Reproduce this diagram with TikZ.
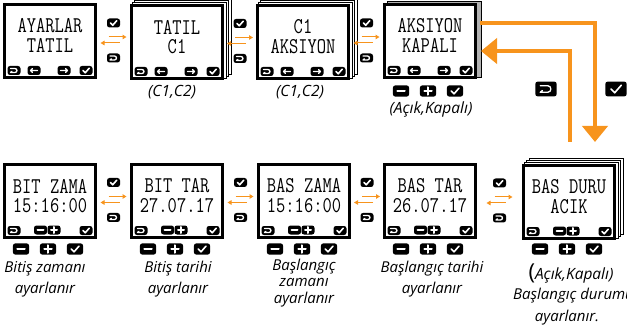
\documentclass[tikz,border=0pt]{standalone}
\usepackage{fontspec}
\newfontfamily\lblfont{Open Sans}
\usepackage{tikz}
\usetikzlibrary{positioning, calc, arrows.meta, backgrounds}
\definecolor{flow}{HTML}{F7941D}

\tikzset{
  lcd/.style={draw, line width=3pt, fill=white, minimum width=91pt, minimum height=73pt, inner sep=0pt},
  lcdtext/.style={font=\fontsize{18}{18}\selectfont\ttfamily, inner sep=0pt},
  sheet/.style={draw, line width=.8pt, fill=white},
  keycap/.style={fill=black, rounded corners=2.5pt},
  glyph/.style={draw=white, line width=1.3pt, line cap=round, line join=round},
  hop/.style={draw=flow, line width=1pt, -{Triangle[length=4pt,width=4.5pt]}},
  bighop/.style={draw=flow, line width=4.5pt, -{Triangle[length=16pt,width=25pt]}},
  lbl/.style={font=\lblfont\itshape\fontsize{15}{21}\selectfont, align=center, inner sep=0pt},
  ret/.pic={\fill[keycap] (-6.5,-4.5) rectangle (6.5,4.5);
    \draw[glyph] (-3.5,-2) -- (1,-2) .. controls (3.6,-2) and (3.6,2) .. (1,2) -- (-3.5,2) -- (-2.2,0.9);},
  larr/.pic={\fill[keycap] (-6.5,-4.5) rectangle (6.5,4.5);
    \draw[glyph] (3.5,0) -- (-3.5,0) (-1.6,-1.9) -- (-3.5,0) -- (-1.6,1.9);},
  rarr/.pic={\fill[keycap] (-6.5,-4.5) rectangle (6.5,4.5);
    \draw[glyph] (-3.5,0) -- (3.5,0) (1.6,-1.9) -- (3.5,0) -- (1.6,1.9);},
  chk/.pic={\fill[keycap] (-6.5,-4.5) rectangle (6.5,4.5);
    \draw[glyph, line width=1.6pt] (-3,0) -- (-0.8,2.3) -- (3.2,-2.3);},
  minus/.pic={\fill[keycap] (-6.5,-4.5) rectangle (6.5,4.5);
    \draw[glyph, line width=2pt] (-3,0) -- (3,0);},
  plus/.pic={\fill[keycap] (-6.5,-4.5) rectangle (6.5,4.5);
    \draw[glyph, line width=2pt] (-3,0) -- (3,0) (0,-3) -- (0,3);}
}

% screen with its two text lines and outer keys
\newcommand{\lcd}[4]{%
  \node[lcd] (#1) at (#2) {};
  \node[lcdtext] (#1-a) at ($(#1.center)+(0,-15)$) {\scalebox{1}[1.25]{#3}};
  \node[lcdtext] (#1-b) at ($(#1.center)+(0,4.5)$) {\scalebox{1}[1.25]{#4}};
  \pic at ($(#1.center)+(-36,29.5)$) {ret};
  \pic at ($(#1.center)+(36,29.5)$) {chk};}
\newcommand{\lcdnav}[1]{%
  \pic at ($(#1.center)+(-16,29.5)$) {larr};
  \pic at ($(#1.center)+(14,29.5)$) {rarr};}
\newcommand{\lcdset}[1]{%
  \pic at ($(#1.center)+(-9.5,29)$) {minus};
  \pic at ($(#1.center)+(4,29)$) {plus};}
\newcommand{\belowkeys}[2]{%
  \pic[scale=1.25] at ($(#1.center)+(-29,#2)$) {minus};
  \pic[scale=1.25] at ($(#1.center)+(-2,#2)$) {plus};
  \pic[scale=1.25] at ($(#1.center)+(25,#2)$) {chk};}
% keys and arrows between two screens
\newcommand{\hop}[2]{%
  \coordinate (#1#2) at ($(#1.east)!.5!(#2.west)$);
  \pic at ($(#1#2)+(0,-18.5)$) {chk};
  \pic at ($(#1#2)+(0,16.5)$) {ret};
  \draw[hop] ($(#1#2)+(-5,-4.5)$) -- ($(#1#2)+(13,-4.5)$);
  \draw[hop] ($(#1#2)+(6,1.5)$) -- ($(#1#2)+(-13,1.5)$);}
\newcommand{\sheets}[1]{%
  \foreach \off in {7,4.5,2}
    \draw[sheet] ($(#1.south west)+(\off,-0.75*\off)$) rectangle ($(#1.north east)+(\off,-0.75*\off)$);}

\begin{document}
\begin{tikzpicture}[x=1pt, y=-1pt]
\useasboundingbox (0,0) rectangle (627,334);

% top row
\lcd{s1}{50,41}{AYARLAR}{TATIL} \lcdnav{s1}
\lcd{s2}{177,42}{TATIL}{C1} \lcdnav{s2}
\lcd{s3}{303,42}{C1}{AKSIYON} \lcdnav{s3}
\lcd{s4}{430,41}{AKSIYON}{KAPALI} \lcdnav{s4}
\belowkeys{s4}{50}
\hop{s1}{s2} \hop{s2}{s3} \hop{s3}{s4}

% bottom row
\lcd{s5}{50,201}{BIT ZAMA}{15:16:00} \lcdset{s5}
\lcd{s6}{177,201}{BIT TAR}{27.07.17} \lcdset{s6}
\lcd{s7}{304,201}{BAS ZAMA}{15:16:00} \lcdset{s7}
\lcd{s8}{430,201}{BAS TAR}{26.07.17} \lcdset{s8}
\lcd{s9}{569,202}{BAS DURU}{ACIK} \lcdset{s9}
\foreach \s in {s5,s6,s7,s8} {\belowkeys{\s}{48}}
\belowkeys{s9}{47}
\hop{s5}{s6} \hop{s6}{s7} \hop{s7}{s8} \hop{s8}{s9}

\begin{scope}[on background layer]
\sheets{s2} \sheets{s3} \sheets{s9}
\fill[gray!60, draw=black, line width=.6pt] ($(s4.south west)+(4,-2)$) rectangle ($(s4.north east)+(4,-2)$);
\end{scope}

% turn between rows
\draw[bighop, shorten <=3pt] ([yshift=18pt]s4.east) -| ([xshift=26pt,yshift=22pt]s9.north);
\draw[bighop, shorten >=4pt] ([xshift=1pt,yshift=22pt]s9.north) |- ([yshift=-10pt]s4.east);
\pic[scale=1.65] at ($(s4.center)+(116,48)$) {ret};
\pic[scale=1.65] at ($(s4.center)+(186,48)$) {chk};

% texts
\node[lbl, font=\lblfont\itshape\fontsize{15.5}{17}\selectfont] (c12a) at ($(s2.center)+(-5,50)$) {(C1,C2)};
\node[lbl, font=\lblfont\itshape\fontsize{15.5}{17}\selectfont] (c12b) at ($(s3.center)+(-3,50)$) {(C1,C2)};
\node[lbl, font=\lblfont\itshape\fontsize{15.5}{17}\selectfont] (ak4) at ($(s4.center)+(1,68)$) {(Açık,Kapalı)};
\node[lbl] (t5) at ($(s5.center)+(-5,78)$) {Bitiş zamanı\\ayarlanır};
\node[lbl] (t6) at ($(s6.center)+(1,78)$) {Bitiş tarihi\\ayarlanır};
\node[lbl, font=\lblfont\itshape\fontsize{15}{16.5}\selectfont] (t7) at ($(s7.center)+(0,82)$) {Başlangıç\\zamanı\\ayarlanır};
\node[lbl] (t8) at ($(s8.center)+(2,78)$) {Başlangıç tarihi\\ayarlanır};
\node[lbl, font=\lblfont\itshape\fontsize{15.5}{17}\selectfont] (ak9) at ($(s9.center)+(2,72)$) {{\fontsize{22}{22}\selectfont\upshape(}Açık,Kapalı)};
\node[lbl, anchor=west] (t9) at ($(s9.center)+(-56,94)$) {Başlangıç durumu};
\node[lbl] (t9b) at ($(s9.center)+(-2,116)$) {ayarlanır.};
\end{tikzpicture}
\end{document}
